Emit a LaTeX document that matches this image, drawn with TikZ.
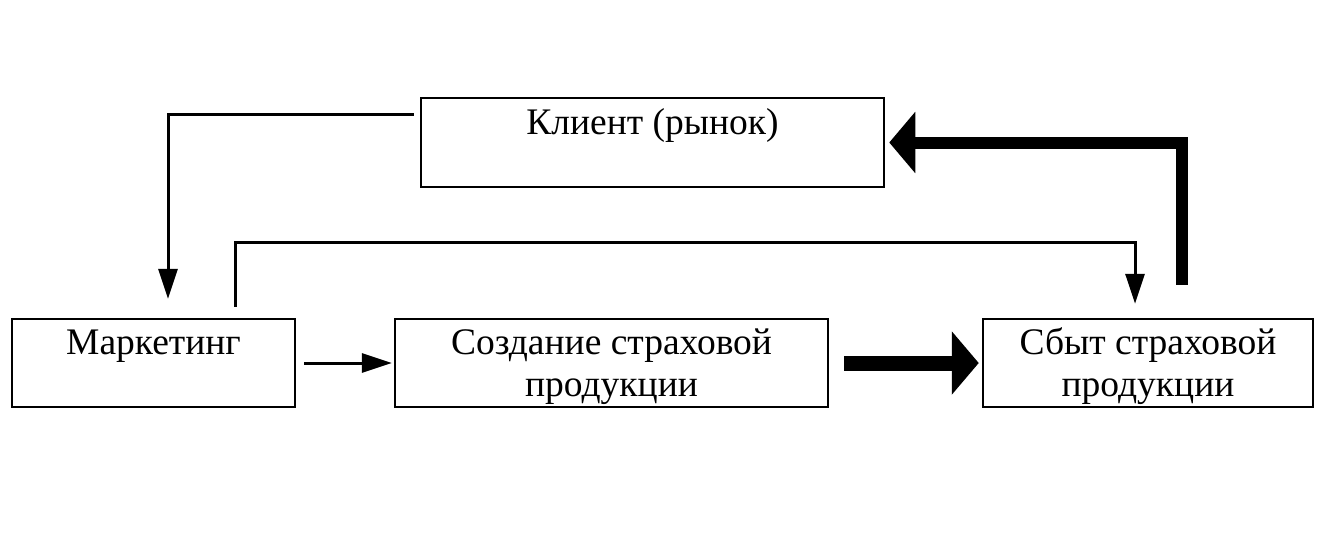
\documentclass[tikz,border=0pt]{standalone}
\usepackage{fontspec}
\setmainfont{Liberation Serif}
\usetikzlibrary{arrows.meta}
\tikzset{
  box/.style={draw, line width=2.5pt, minimum height=88pt, inner sep=0pt},
  txt/.style={inner sep=0pt, anchor=base, align=center,
    font=\fontsize{37.5pt}{42pt}\selectfont},
  thinarrow/.style={line width=3pt, -{Triangle[length=30pt,width=19pt]}},
  thickarrow/.style={line width=15pt, -{Triangle[length=27pt,width=62pt]}},
  backarrow/.style={line width=12pt, -{Triangle[length=26pt,width=60pt]}}
}
\begin{document}
\begin{tikzpicture}[x=1pt,y=-1pt]
\useasboundingbox (0,0) rectangle (1317,539);
\node[box, minimum width=463pt, minimum height=89pt] (klient) at (652.5,142.5) {};
\node[box, minimum width=283pt] (mark) at (153.5,363) {};
\node[box, minimum width=433pt] (sozd) at (611.5,363) {};
\node[box, minimum width=330pt] (sbyt) at (1148,363) {};
\node[txt] (klientT) at (652.5,134) {Клиент (рынок)};
\node[txt] (markT) at (153.5,354) {Маркетинг};
\node[txt] (sozdT) at (611.5,396) {Создание страховой\\продукции};
\node[txt] (sbytT) at (1148,396) {Сбыт страховой\\продукции};
\coordinate (top) at (0,242);
\coordinate (s1) at ([shift={(81.5pt,11pt)}]mark.north);
\coordinate (e1) at ([shift={(-13pt,14pt)}]sbyt.north);
\draw[thinarrow] ([shift={(-6pt,28.5pt)}]klient.west) -| ([shift={(14.5pt,19pt)}]mark.north);
\draw[thinarrow] (s1) -- (s1 |- top) -| (e1);
\draw[thinarrow] ([shift={(8pt,0pt)}]mark.east) -- ([xshift=-2pt]sozd.west);
\draw[thickarrow] ([xshift=15pt]sozd.east) -- ([xshift=-3pt]sbyt.west);
\draw[backarrow] ([shift={(34pt,33pt)}]sbyt.north) |- ([shift={(4pt,0pt)}]klient.east);
\end{tikzpicture}
\end{document}
